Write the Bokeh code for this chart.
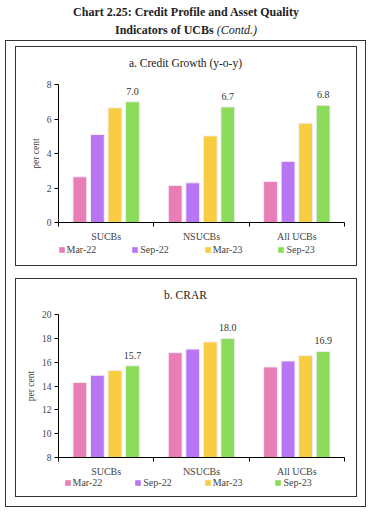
from bokeh.plotting import figure
from bokeh.models import (ColumnDataSource, Legend, LegendItem, FixedTicker, Range1d, Div)
from bokeh.layouts import column
from bokeh.embed import file_html
from bokeh.resources import INLINE
from bokeh.core.properties import value

categories = ["SUCBs", "NSUCBs", "All UCBs"]
periods = ["Mar-22", "Sep-22", "Mar-23", "Sep-23"]
colors = ["#E97EB7", "#B876F5", "#F8CD41", "#8ADC5A"]

credit_growth = {
    "Mar-22": [2.65, 2.15, 2.38],
    "Sep-22": [5.1, 2.3, 3.55],
    "Mar-23": [6.65, 5.02, 5.76],
    "Sep-23": [7.0, 6.7, 6.8],
}
crar = {
    "Mar-22": [14.3, 16.8, 15.6],
    "Sep-22": [14.9, 17.1, 16.1],
    "Mar-23": [15.3, 17.7, 16.55],
    "Sep-23": [15.7, 18.0, 16.9],
}
yticks_a = [0, 2, 4, 6, 8]
yticks_b = [8, 10, 12, 14, 16, 18, 20]

FONT = "Liberation Serif"
BAR_STEP = 0.184
BAR_W = 0.145
BORDER = "1.5px solid #333"


def panel(title, data, yticks, title_pad, height, min_top, min_bottom,
          leg_h, leg_x, leg_y, leg_spacing):
    t = Div(text=("<div style='text-align:center;font-family:\"Liberation Serif\";"
                  "font-size:11.5px;line-height:13px;color:#222;width:340px;"
                  "padding-top:%dpx'>%s</div>" % (title_pad, title)),
            width=340, height=25, margin=0)

    p = figure(width=340, height=height, output_backend="svg", toolbar_location=None,
               x_range=Range1d(0, len(categories)), y_range=Range1d(yticks[0], yticks[-1]),
               min_border_left=42, min_border_right=12, min_border_top=min_top,
               min_border_bottom=min_bottom, outline_line_color=None)
    p.xgrid.grid_line_color = None
    p.ygrid.grid_line_color = None

    # legend-only strip under the chart (same series, drawn out of its visible range)
    lf = figure(width=340, height=leg_h, output_backend="svg", toolbar_location=None,
                x_range=Range1d(100, 101), y_range=Range1d(100, 101), min_border=0,
                outline_line_color=None, background_fill_alpha=0, border_fill_alpha=0,
                margin=(-8, 0, 0, 0))
    lf.axis.visible = False
    lf.grid.visible = False

    items = []
    for j, per in enumerate(periods):
        xs = [i + 0.5 + (j - 1.5) * BAR_STEP for i in range(len(categories))]
        src = ColumnDataSource(dict(x=xs, top=data[per], lab=["%.1f" % v for v in data[per]]))
        p.vbar(x="x", top="top", bottom=yticks[0], width=BAR_W, source=src,
               fill_color=colors[j], line_color="#f4eef4", line_width=1)
        lr = lf.vbar(x="x", top="top", bottom=yticks[0], width=BAR_W, source=src,
                     fill_color=colors[j], line_color=None)
        items.append(LegendItem(label=per, renderers=[lr]))
        if per == "Sep-23":
            p.text(x="x", y="top", text="lab", source=src, text_align="center",
                   text_baseline="bottom", y_offset=-7, text_font=value(FONT),
                   text_font_size="10px", text_color="#333")

    p.yaxis.ticker = FixedTicker(ticks=yticks)
    p.yaxis.axis_label = "per cent"
    p.yaxis.axis_label_text_font = FONT
    p.yaxis.axis_label_text_font_style = "normal"
    p.yaxis.axis_label_text_font_size = "9.5px"
    p.yaxis.axis_label_standoff = 3
    p.yaxis.major_label_text_font = FONT
    p.yaxis.major_label_text_font_size = "9.5px"
    p.yaxis.major_label_standoff = 3
    p.yaxis.major_tick_in = 0
    p.yaxis.major_tick_out = 4
    p.yaxis.minor_tick_line_color = None
    p.yaxis.axis_line_color = "black"
    p.yaxis.major_tick_line_color = "black"

    p.xaxis.ticker = FixedTicker(ticks=[i + 0.5 for i in range(len(categories))],
                                 minor_ticks=list(range(len(categories) + 1)))
    p.xaxis.major_label_overrides = {i + 0.5: c for i, c in enumerate(categories)}
    p.xaxis.major_tick_line_color = None
    p.xaxis.minor_tick_in = 0
    p.xaxis.minor_tick_out = 4
    p.xaxis.minor_tick_line_color = "black"
    p.xaxis.axis_line_color = "black"
    p.xaxis.major_label_text_font = FONT
    p.xaxis.major_label_text_font_size = "10px"
    p.xaxis.major_label_standoff = 2

    leg = Legend(items=items, orientation="horizontal", location=(leg_x, leg_y),
                 glyph_width=7, glyph_height=7, label_standoff=2, spacing=leg_spacing,
                 label_text_font=FONT, label_text_font_size="10px",
                 label_height=10, border_line_color=None, background_fill_alpha=0,
                 padding=0, margin=0)
    lf.add_layout(leg, "center")
    return column(t, p, lf, spacing=0, styles={"border": BORDER})


pa = panel("a. Credit Growth (y-o-y)", credit_growth, yticks_a, 10, 173, 12, 23,
           28, 0, 10, 35)
pb = panel("b. CRAR", crar, yticks_b, 10, 176, 10, 23,
           24, 6, 8, 32)

title = Div(text=("<div style='text-align:center;font-family:\"Liberation Serif\";font-size:12px;"
                  "font-weight:bold;line-height:18px;color:#222;width:372px;margin-left:-5px;"
                  "padding-top:3px'>"
                  "Chart 2.25: Credit Profile and Asset Quality<br>Indicators of UCBs "
                  "<i style='font-weight:normal'>(Contd.)</i></div>"),
            width=362, height=38, margin=0)

box = column(pa, pb, spacing=12,
             styles={"border": BORDER, "padding": "4.5px 8.5px 9.5px 8.5px"})
root = column(title, box, spacing=2, styles={"padding-left": "5px"})

open("out.html", "w").write(file_html(root, INLINE))
